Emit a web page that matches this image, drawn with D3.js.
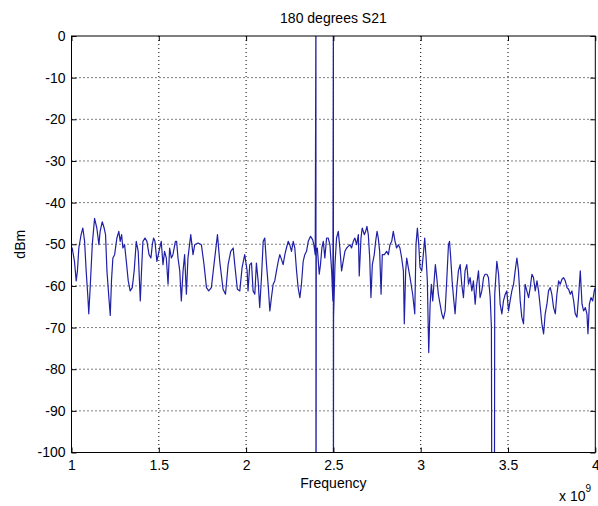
<!DOCTYPE html>
<html>
<head>
<meta charset="utf-8">
<script src="https://cdn.jsdelivr.net/npm/d3@7"></script>
<style>
  html, body { margin: 0; padding: 0; background: #fff; }
  svg { display: block; font-family: "Liberation Sans", Arial, sans-serif; }
</style>
</head>
<body>
<svg id="chart" width="598" height="506"></svg>
<script>
// 180 degrees S21 — MATLAB style trace

const freqGHz = [
  1.000,1.004,1.017,1.027,1.034,1.042,1.055,1.065,1.075,1.084,1.094,1.099,1.107,1.119,1.132,1.145,
  1.157,1.164,1.176,1.187,1.195,1.203,1.214,1.222,1.229,1.237,1.247,1.260,1.271,1.279,1.287,1.294,
  1.304,1.314,1.325,1.336,1.348,1.359,1.371,1.382,1.394,1.401,1.409,1.421,1.432,1.444,1.455,1.463,
  1.470,1.478,1.489,1.501,1.514,1.524,1.533,1.543,1.553,1.562,1.572,1.581,1.595,1.602,1.610,1.620,
  1.629,1.639,1.648,1.658,1.667,1.683,1.696,1.706,1.725,1.744,1.759,1.773,1.786,1.801,1.816,1.836,
  1.849,1.868,1.882,1.897,1.912,1.926,1.935,1.950,1.964,1.977,1.992,2.006,2.011,2.021,2.031,2.040,
  2.050,2.059,2.069,2.078,2.088,2.098,2.107,2.117,2.126,2.136,2.145,2.155,2.164,2.174,2.184,2.193,
  2.203,2.212,2.222,2.231,2.241,2.250,2.260,2.270,2.279,2.289,2.298,2.308,2.317,2.327,2.336,2.346,
  2.356,2.369,2.381,2.388,2.396,2.400,2.400,2.402,2.408,2.419,2.426,2.434,2.442,2.451,2.461,2.470,
  2.480,2.490,2.497,2.500,2.500,2.501,2.509,2.518,2.528,2.537,2.547,2.556,2.566,2.576,2.585,2.595,
  2.604,2.614,2.623,2.633,2.643,2.648,2.658,2.665,2.677,2.685,2.692,2.700,2.708,2.715,2.723,2.734,
  2.742,2.750,2.757,2.765,2.773,2.780,2.792,2.805,2.815,2.824,2.834,2.843,2.853,2.862,2.872,2.881,
  2.891,2.901,2.906,2.914,2.920,2.929,2.939,2.954,2.966,2.973,2.981,2.989,2.996,3.006,3.015,3.023,
  3.031,3.038,3.046,3.054,3.061,3.069,3.077,3.084,3.092,3.101,3.111,3.121,3.130,3.140,3.149,3.159,
  3.165,3.172,3.180,3.188,3.197,3.207,3.216,3.226,3.235,3.245,3.254,3.264,3.274,3.283,3.293,3.302,
  3.312,3.321,3.331,3.340,3.350,3.360,3.369,3.379,3.388,3.398,3.405,3.409,3.421,3.424,3.436,3.446,
  3.455,3.465,3.474,3.484,3.493,3.503,3.512,3.522,3.532,3.541,3.551,3.560,3.570,3.579,3.589,3.598,
  3.608,3.618,3.627,3.637,3.646,3.656,3.666,3.675,3.685,3.694,3.704,3.713,3.723,3.732,3.742,3.751,
  3.761,3.771,3.780,3.790,3.799,3.809,3.818,3.828,3.838,3.847,3.857,3.866,3.876,3.885,3.895,3.904,
  3.914,3.924,3.933,3.943,3.952,3.958,3.966,3.975,3.985,3.994,4.000
];

const levelDbm = [
  -51.0,-50.9,-54.1,-58.8,-56.4,-50.9,-47.7,-46.1,-49.3,-56.4,-62.8,-66.7,-60.4,-50.1,-43.8,-46.1,
  -50.1,-46.9,-44.6,-46.1,-47.7,-56.4,-62.8,-67.1,-58.8,-53.3,-52.5,-48.5,-46.9,-49.3,-47.7,-50.9,
  -50.1,-54.1,-58.8,-61.2,-60.4,-56.4,-49.3,-51.7,-63.6,-56.4,-49.3,-48.5,-49.3,-52.5,-53.3,-50.1,
  -48.5,-49.3,-54.1,-51.7,-49.3,-54.9,-51.7,-53.3,-59.6,-50.9,-53.3,-52.5,-49.3,-49.3,-53.3,-56.4,
  -63.6,-56.4,-52.5,-62.0,-53.3,-47.7,-52.5,-50.1,-49.7,-50.1,-54.9,-60.4,-61.2,-60.4,-54.9,-47.7,
  -54.1,-60.8,-62.0,-54.9,-51.7,-50.9,-54.9,-60.8,-61.2,-55.6,-52.5,-56.4,-61.2,-54.9,-54.5,-61.2,
  -62.0,-54.5,-58.8,-65.2,-58.0,-49.3,-48.5,-54.9,-59.6,-66.0,-62.8,-59.6,-58.8,-56.4,-54.1,-52.5,
  -53.7,-54.9,-52.5,-50.9,-49.3,-50.1,-51.7,-49.3,-50.9,-56.4,-60.4,-62.8,-59.6,-54.1,-52.5,-51.7,
  -49.3,-48.1,-48.9,-50.1,-52.5,10,-150,-51.5,-50.9,-57.2,-54.9,-50.9,-49.3,-53.3,-48.5,-48.5,
  -50.1,-56.4,-63.6,10,-150,-67.5,-54.9,-48.5,-46.9,-50.9,-56.4,-54.1,-51.7,-50.9,-50.5,-50.1,
  -50.9,-49.3,-48.5,-50.1,-47.7,-57.6,-48.5,-46.1,-47.7,-46.9,-45.7,-47.7,-53.3,-62.8,-54.9,-52.5,
  -49.3,-46.9,-48.5,-51.7,-62.0,-52.5,-52.5,-51.7,-52.5,-50.1,-49.3,-46.9,-49.3,-50.9,-50.1,-50.9,
  -53.3,-56.4,-69.1,-56.4,-53.3,-55.6,-58.0,-62.0,-66.7,-50.1,-46.1,-50.1,-55.6,-56.4,-52.5,-48.5,
  -53.3,-58.8,-76.0,-64.4,-59.6,-63.6,-58.8,-54.9,-58.0,-62.0,-64.4,-66.7,-67.9,-66.0,-58.8,-50.1,
  -49.3,-53.3,-58.8,-62.8,-66.7,-60.4,-56.4,-54.9,-59.6,-62.8,-56.4,-54.9,-59.6,-58.0,-61.2,-58.8,
  -64.4,-59.6,-56.4,-62.8,-61.2,-58.0,-57.2,-57.2,-58.0,-62.8,-70.0,-150,-150,-62.0,-54.1,-57.2,
  -64.4,-66.7,-63.6,-62.0,-61.2,-66.0,-63.6,-61.2,-59.6,-56.4,-53.3,-56.4,-63.6,-67.5,-69.1,-59.6,
  -61.2,-62.8,-60.4,-57.2,-58.0,-61.2,-58.8,-61.2,-65.2,-69.1,-71.5,-66.7,-64.4,-61.2,-60.4,-62.0,
  -65.2,-66.7,-62.0,-58.8,-59.6,-58.4,-58.0,-58.8,-60.4,-60.8,-62.0,-61.2,-63.6,-66.7,-67.5,-62.8,
  -56.4,-64.4,-66.0,-65.2,-66.7,-71.5,-64.4,-62.8,-63.6,-61.2,-60.4
];

const xTicks = [1, 1.5, 2, 2.5, 3, 3.5, 4];
const yTicks = [0, -10, -20, -30, -40, -50, -60, -70, -80, -90, -100];

const box = { left: 71.5, right: 595.3, top: 36, bottom: 452.5 };
const TRACE = '#2020a6';

const svg = d3.select('#chart');
svg.append('rect').attr('width', 598).attr('height', 506).attr('fill', '#fff');

const x = d3.scaleLinear().domain([1, 4]).range([box.left, box.right]);
const y = d3.scaleLinear().domain([-100, 0]).range([box.bottom, box.top]);

svg.append('defs').append('clipPath').attr('id', 'plotClip')
  .append('rect')
  .attr('x', box.left).attr('y', box.top)
  .attr('width', box.right - box.left).attr('height', box.bottom - box.top);

// dotted grid
const grid = svg.append('g').attr('stroke', '#000').attr('stroke-width', 1).attr('stroke-dasharray', '1,3');
grid.selectAll('.gx').data(xTicks.slice(1, -1)).join('line')
  .attr('x1', d => x(d)).attr('x2', d => x(d))
  .attr('y1', box.top).attr('y2', box.bottom);
grid.selectAll('.gy').data(yTicks.slice(1, -1)).join('line')
  .attr('x1', box.left).attr('x2', box.right)
  .attr('y1', d => y(d)).attr('y2', d => y(d));

// trace
const line = d3.line().x((d, i) => x(freqGHz[i])).y(d => y(d));
svg.append('path')
  .datum(levelDbm)
  .attr('clip-path', 'url(#plotClip)')
  .attr('fill', 'none')
  .attr('stroke', TRACE)
  .attr('stroke-width', 1.2)
  .attr('stroke-linejoin', 'round')
  .attr('d', line);

// axes, ticks pointing inward on all four sides
const fmt = d => String(d);
function styleAxis(g) {
  g.select('.domain').remove();
  g.selectAll('line').attr('stroke', '#000');
  g.selectAll('text').attr('fill', '#000').style('font-size', '14px')
    .style('font-family', '"Liberation Sans", Arial, sans-serif');
}
svg.append('g').attr('transform', `translate(0,${box.bottom})`)
  .call(d3.axisBottom(x).tickValues(xTicks).tickFormat(fmt).tickSize(-5).tickPadding(8))
  .call(styleAxis);
svg.append('g').attr('transform', `translate(0,${box.top})`)
  .call(d3.axisTop(x).tickValues(xTicks).tickFormat('').tickSize(-5))
  .call(styleAxis);
svg.append('g').attr('transform', `translate(${box.left},0)`)
  .call(d3.axisLeft(y).tickValues(yTicks).tickFormat(fmt).tickSize(-5).tickPadding(6))
  .call(styleAxis);
svg.append('g').attr('transform', `translate(${box.right},0)`)
  .call(d3.axisRight(y).tickValues(yTicks).tickFormat('').tickSize(-5))
  .call(styleAxis);

svg.append('rect')
  .attr('x', box.left).attr('y', box.top)
  .attr('width', box.right - box.left).attr('height', box.bottom - box.top)
  .attr('fill', 'none').attr('stroke', '#000').attr('stroke-width', 1);

// labels
const cx = (box.left + box.right) / 2;
svg.append('text').attr('x', cx).attr('y', 23).attr('text-anchor', 'middle')
  .style('font-size', '14px').text('180 degrees S21');
svg.append('text').attr('x', cx).attr('y', 488).attr('text-anchor', 'middle')
  .style('font-size', '14px').text('Frequency');
svg.append('text').attr('transform', `translate(25,${(box.top + box.bottom) / 2}) rotate(-90)`)
  .attr('text-anchor', 'middle').style('font-size', '14px').text('dBm');

const mult = svg.append('text').attr('x', 559).attr('y', 501).style('font-size', '14px');
mult.append('tspan').text('x 10');
mult.append('tspan').attr('dy', -9).style('font-size', '10px').text('9');
</script>
</body>
</html>
